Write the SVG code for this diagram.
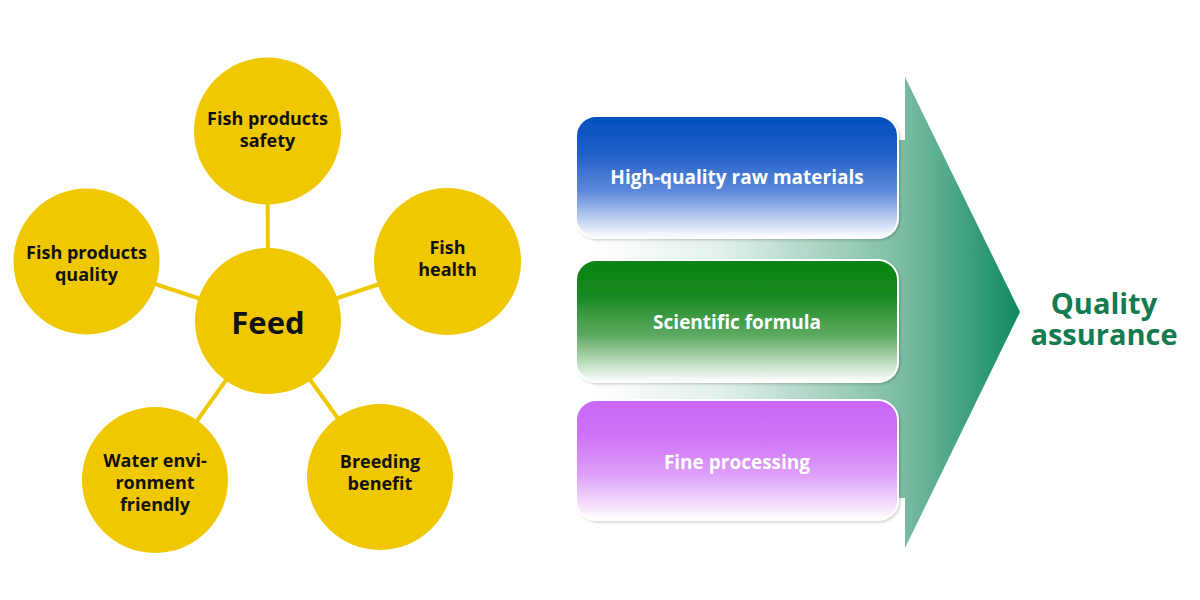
<svg xmlns="http://www.w3.org/2000/svg" width="1200" height="600" viewBox="0 0 1200 600">
  <defs>
    <style>
      .conn { stroke: #EFC800; stroke-width: 4; fill: none; }
      .circ { fill: #EFC800; }
      .ct { font-family: "Open Sans", "Noto Sans", sans-serif; font-weight: 700; font-size: 18px; fill: #111; text-anchor: middle; }
      .feed { font-size: 31px; }
      .bt { font-family: "Open Sans", "Noto Sans", sans-serif; font-weight: 700; font-size: 19px; fill: #ffffff; text-anchor: middle; }
      .qa { font-family: "Open Sans", "Noto Sans", sans-serif; font-weight: 700; font-size: 29px; fill: #137B4F; text-anchor: middle; }
      .box { stroke: #ffffff; stroke-width: 2; filter: url(#sh); }
    </style>
    <linearGradient id="arrowG" gradientUnits="userSpaceOnUse" x1="590" y1="0" x2="1020" y2="0">
      <stop offset="0" stop-color="#ffffff"/>
      <stop offset="0.3" stop-color="#E3F1EB"/>
      <stop offset="0.72" stop-color="#7DBEA4"/>
      <stop offset="1" stop-color="#0F8A60"/>
    </linearGradient>
    <linearGradient id="g1" x1="0" y1="0" x2="0" y2="1">
      <stop offset="0" stop-color="#0050BE"/>
      <stop offset="0.3" stop-color="#1E5FC6"/>
      <stop offset="0.62" stop-color="#5F8ADB"/>
      <stop offset="1" stop-color="#ffffff"/>
    </linearGradient>
    <linearGradient id="g2" x1="0" y1="0" x2="0" y2="1">
      <stop offset="0" stop-color="#078210"/>
      <stop offset="0.3" stop-color="#1A8A22"/>
      <stop offset="0.62" stop-color="#5FAA62"/>
      <stop offset="1" stop-color="#ffffff"/>
    </linearGradient>
    <linearGradient id="g3" x1="0" y1="0" x2="0" y2="1">
      <stop offset="0" stop-color="#C965F7"/>
      <stop offset="0.3" stop-color="#CE72F7"/>
      <stop offset="0.62" stop-color="#DD9FF8"/>
      <stop offset="1" stop-color="#ffffff"/>
    </linearGradient>
    <filter id="sh" x="-5%" y="-5%" width="110%" height="115%">
      <feDropShadow dx="1.5" dy="1.5" stdDeviation="1" flood-color="#000" flood-opacity="0.18"/>
    </filter>
  </defs>
  <rect width="1200" height="600" fill="#ffffff"/>

  <g id="connectors">
    <line class="conn" x1="268" y1="321" x2="267.5" y2="131"/>
    <line class="conn" x1="268" y1="321" x2="86.5" y2="261.5"/>
    <line class="conn" x1="268" y1="321" x2="447.5" y2="261.5"/>
    <line class="conn" x1="268" y1="321" x2="155" y2="480"/>
    <line class="conn" x1="268" y1="321" x2="380" y2="477"/>
  </g>

  <g id="node-feed">
    <circle class="circ" cx="268" cy="321" r="73"/>
    <text class="ct feed" x="268" y="334">Feed</text>
  </g>
  <g id="node-safety">
    <circle class="circ" cx="267.5" cy="131" r="73.5"/>
    <text class="ct" x="267.5" y="125">Fish products</text>
    <text class="ct" x="267.5" y="147">safety</text>
  </g>
  <g id="node-quality">
    <circle class="circ" cx="86.5" cy="261.5" r="73"/>
    <text class="ct" x="86.5" y="259">Fish products</text>
    <text class="ct" x="86.5" y="281">quality</text>
  </g>
  <g id="node-health">
    <circle class="circ" cx="447.5" cy="261.5" r="73.5"/>
    <text class="ct" x="447.5" y="254">Fish</text>
    <text class="ct" x="447.5" y="276">health</text>
  </g>
  <g id="node-water">
    <circle class="circ" cx="155" cy="480" r="73"/>
    <text class="ct" x="155" y="467">Water envi-</text>
    <text class="ct" x="155" y="489">ronment</text>
    <text class="ct" x="155" y="511">friendly</text>
  </g>
  <g id="node-breeding">
    <circle class="circ" cx="380" cy="477" r="73"/>
    <text class="ct" x="380" y="468">Breeding</text>
    <text class="ct" x="380" y="490">benefit</text>
  </g>

  <g id="node-arrow">
    <polygon points="590,140 905,140 905,77 1020,312 905,548 905,498 590,498" fill="url(#arrowG)"/>
  </g>

  <g id="node-raw">
    <rect class="box" x="576" y="116" width="322" height="122" rx="20" fill="url(#g1)"/>
    <text class="bt" x="737" y="184">High-quality raw materials</text>
  </g>
  <g id="node-formula">
    <rect class="box" x="576" y="260" width="322" height="122" rx="20" fill="url(#g2)"/>
    <text class="bt" x="737" y="329">Scientific formula</text>
  </g>
  <g id="node-processing">
    <rect class="box" x="576" y="400" width="322" height="120" rx="20" fill="url(#g3)"/>
    <text class="bt" x="737" y="469">Fine processing</text>
  </g>

  <g id="node-qa">
    <text class="qa" x="1104" y="314">Quality</text>
    <text class="qa" x="1104" y="345">assurance</text>
  </g>
</svg>
